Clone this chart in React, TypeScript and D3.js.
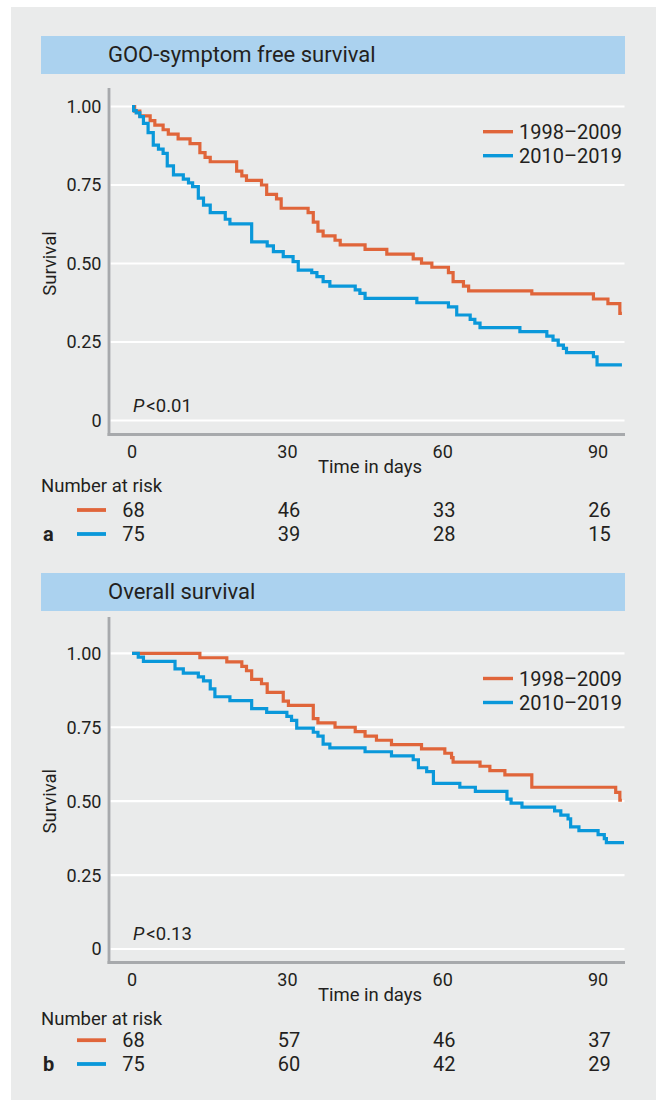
import React from "react";
import * as d3 from "d3";

// Kaplan-Meier step points: [day, survival]
const gooEarly = [
  [0, 1], [0.5, 0.985], [1.5, 0.97], [3.5, 0.955], [4.4, 0.941], [6.0, 0.926], [7.0, 0.912],
  [8.9, 0.897], [11.2, 0.882], [13.1, 0.853], [14.1, 0.838], [15.1, 0.824], [20.2, 0.794],
  [21.2, 0.779], [22.1, 0.765], [25.0, 0.75], [26.0, 0.72], [27.9, 0.706], [28.8, 0.676],
  [34.0, 0.662], [35.0, 0.632], [35.9, 0.603], [36.9, 0.588], [39.2, 0.574], [40.2, 0.559],
  [45.0, 0.545], [49.2, 0.53], [54.3, 0.515], [55.9, 0.501], [57.9, 0.488], [61.1, 0.471],
  [62.0, 0.442], [64.0, 0.428], [65.0, 0.413], [77.2, 0.403], [89.1, 0.387], [91.9, 0.372],
  [94.2, 0.341], [94.6, 0.341],
];
const gooLate = [
  [0, 1], [0.3, 0.987], [0.8, 0.98], [1.5, 0.968], [2.2, 0.946], [3.1, 0.917], [4.1, 0.877],
  [5.1, 0.864], [6.0, 0.851], [6.8, 0.811], [8.0, 0.782], [9.9, 0.769], [10.9, 0.757],
  [11.7, 0.745], [12.8, 0.708], [13.8, 0.686], [15.1, 0.662], [18.0, 0.641], [18.9, 0.626],
  [23.1, 0.569], [26.1, 0.556], [27.3, 0.538], [29.2, 0.522], [31.1, 0.506], [32.1, 0.479],
  [34.7, 0.471], [35.7, 0.458], [36.9, 0.442], [38.2, 0.428], [43.1, 0.416], [44.0, 0.405],
  [45.0, 0.389], [55.0, 0.375], [61.1, 0.362], [62.7, 0.336], [65.3, 0.322], [66.2, 0.31],
  [67.2, 0.296], [74.9, 0.283], [80.1, 0.269], [81.3, 0.256], [82.3, 0.24], [83.3, 0.23],
  [83.9, 0.216], [89.1, 0.203], [89.8, 0.177], [94.6, 0.177],
];
const osEarly = [
  [0, 1], [13.1, 0.985], [18.3, 0.971], [21.2, 0.956], [22.1, 0.941], [23.1, 0.912],
  [25.0, 0.897], [26.1, 0.868], [29.2, 0.838], [30.2, 0.824], [35.0, 0.779], [35.9, 0.765],
  [39.2, 0.75], [43.1, 0.735], [45.0, 0.72], [47.2, 0.706], [50.1, 0.691], [55.9, 0.677],
  [60.4, 0.662], [61.7, 0.647], [62.0, 0.632], [67.2, 0.618], [69.1, 0.603], [72.0, 0.589],
  [77.2, 0.547], [93.4, 0.53], [94.2, 0.503], [94.6, 0.503],
];
const osLate = [
  [0, 1], [1.2, 0.987], [2.2, 0.973], [8.3, 0.947], [9.9, 0.933], [12.8, 0.92], [13.8, 0.907],
  [15.1, 0.88], [16.0, 0.853], [18.9, 0.84], [23.1, 0.813], [26.0, 0.8], [29.9, 0.787],
  [30.8, 0.773], [31.8, 0.747], [35.0, 0.733], [35.9, 0.72], [36.9, 0.693], [38.2, 0.68],
  [45.0, 0.667], [50.1, 0.653], [54.3, 0.64], [55.3, 0.613], [56.9, 0.6], [58.2, 0.56],
  [63.3, 0.547], [66.3, 0.533], [72.4, 0.507], [73.2, 0.493], [75.3, 0.48], [81.6, 0.467],
  [82.8, 0.453], [84.2, 0.44], [84.7, 0.413], [86.3, 0.4], [90.0, 0.387], [91.2, 0.373],
  [91.6, 0.36], [95.0, 0.36],
];

const dayTicks = [0, 30, 60, 90];
const survTicks = [0, 0.25, 0.5, 0.75, 1];
const seriesNames = ["1998–2009", "2010–2019"];
const gooRisk = [[68, 46, 33, 26], [75, 39, 28, 15]];
const osRisk = [[68, 57, 46, 37], [75, 60, 42, 29]];

const ORANGE = "#e0653a";
const BLUE = "#0a98da";
const TEXT = "#231f20";
const AXIS = "#a7a9ac";
const FONT = "Roboto, 'Open Sans', sans-serif";

const x = d3.scaleLinear().domain([-4.45, 95.1]).range([109, 624.5]);

function Panel({ title, early, late, risk, pText, letter, L }) {
  // y maps survival to pixels inside this panel
  const y = d3.scaleLinear().domain([0, 1]).range([L.y0, L.y1]);
  const line = d3
    .line()
    .x((d) => x(d[0]))
    .y((d) => y(d[1]))
    .curve(d3.curveStepAfter);
  const mid = (L.y0 + L.y1) / 2;
  const fmt = (v) => (v === 0 ? "0" : d3.format(".2f")(v));

  return (
    <g fontFamily={FONT} fill={TEXT}>
      <rect x={41} y={L.barTop} width={584} height={38} fill="#abd2ef" />
      <text x={108} y={L.barTop + 26} fontSize={22}>
        {title}
      </text>

      {survTicks.map((t) => (
        <g key={t}>
          <line x1={110.5} x2={624.5} y1={y(t)} y2={y(t)} stroke="#fff" strokeWidth={2.2} />
          <text x={101.5} y={y(t)} dy="0.36em" textAnchor="end" fontSize={18}>
            {fmt(t)}
          </text>
        </g>
      ))}

      <line x1={109} x2={109} y1={L.axisTop} y2={L.axisBottom + 1.4} stroke={AXIS} strokeWidth={2.8} />
      <line x1={107.6} x2={625} y1={L.axisBottom} y2={L.axisBottom} stroke={AXIS} strokeWidth={2.8} />

      <path d={line(early)} fill="none" stroke={ORANGE} strokeWidth={3.2} />
      <path d={line(late)} fill="none" stroke={BLUE} strokeWidth={3.2} />

      {[ORANGE, BLUE].map((c, i) => (
        <g key={c}>
          <line x1={483} x2={513} y1={L.y1 + 25.2 + i * 24} y2={L.y1 + 25.2 + i * 24} stroke={c} strokeWidth={3.4} />
          <text x={519} y={L.y1 + 32.8 + i * 23.6} fontSize={20}>
            {seriesNames[i]}
          </text>
        </g>
      ))}

      <text x={133} y={L.y0 - 9} fontSize={18.5}>
        <tspan fontStyle="italic">P</tspan>
        <tspan dx={2}>{pText}</tspan>
      </text>

      <text transform={`translate(56,${mid}) rotate(-90)`} textAnchor="middle" fontSize={18.5}>
        Survival
      </text>

      {dayTicks.map((t) => (
        <text key={t} x={x(t)} y={L.axisBottom + 17.5} dy="0.36em" textAnchor="middle" fontSize={18}>
          {t}
        </text>
      ))}
      <text x={370} y={L.timeBase} textAnchor="middle" fontSize={18.5}>
        Time in days
      </text>

      <text x={41} y={L.narBase} fontSize={18.5}>
        Number at risk
      </text>
      {risk.map((row, i) => (
        <g key={i}>
          <line
            x1={77}
            x2={106}
            y1={L.rowBase[i] - 6.5}
            y2={L.rowBase[i] - 6.5}
            stroke={i === 0 ? ORANGE : BLUE}
            strokeWidth={3.8}
          />
          {row.map((n, j) => (
            <text key={j} x={x(dayTicks[j]) + 1.5} y={L.rowBase[i]} textAnchor="middle" fontSize={20}>
              {n}
            </text>
          ))}
        </g>
      ))}
      <text x={43} y={L.rowBase[1]} fontSize={20} fontWeight="bold">
        {letter}
      </text>
    </g>
  );
}

const layoutA = {
  barTop: 36, axisTop: 88, y1: 106.5, y0: 420.5, axisBottom: 434.5,
  timeBase: 473, narBase: 492, rowBase: [516.5, 540.5],
};
const layoutB = {
  barTop: 573, axisTop: 617, y1: 653.3, y0: 949, axisBottom: 962.5,
  timeBase: 1001, narBase: 1025, rowBase: [1046.7, 1070.5],
};

export default function App() {
  return (
    <svg width={656} height={1100} style={{ position: "absolute", left: 0, top: 0 }}>
      <rect x={0} y={0} width={656} height={1100} fill="#fff" />
      <rect x={11} y={7} width={645} height={1093} fill="#eaebeb" />
      <Panel
        title="GOO-symptom free survival"
        early={gooEarly}
        late={gooLate}
        risk={gooRisk}
        pText="<0.01"
        letter="a"
        L={layoutA}
      />
      <Panel
        title="Overall survival"
        early={osEarly}
        late={osLate}
        risk={osRisk}
        pText="<0.13"
        letter="b"
        L={layoutB}
      />
    </svg>
  );
}
